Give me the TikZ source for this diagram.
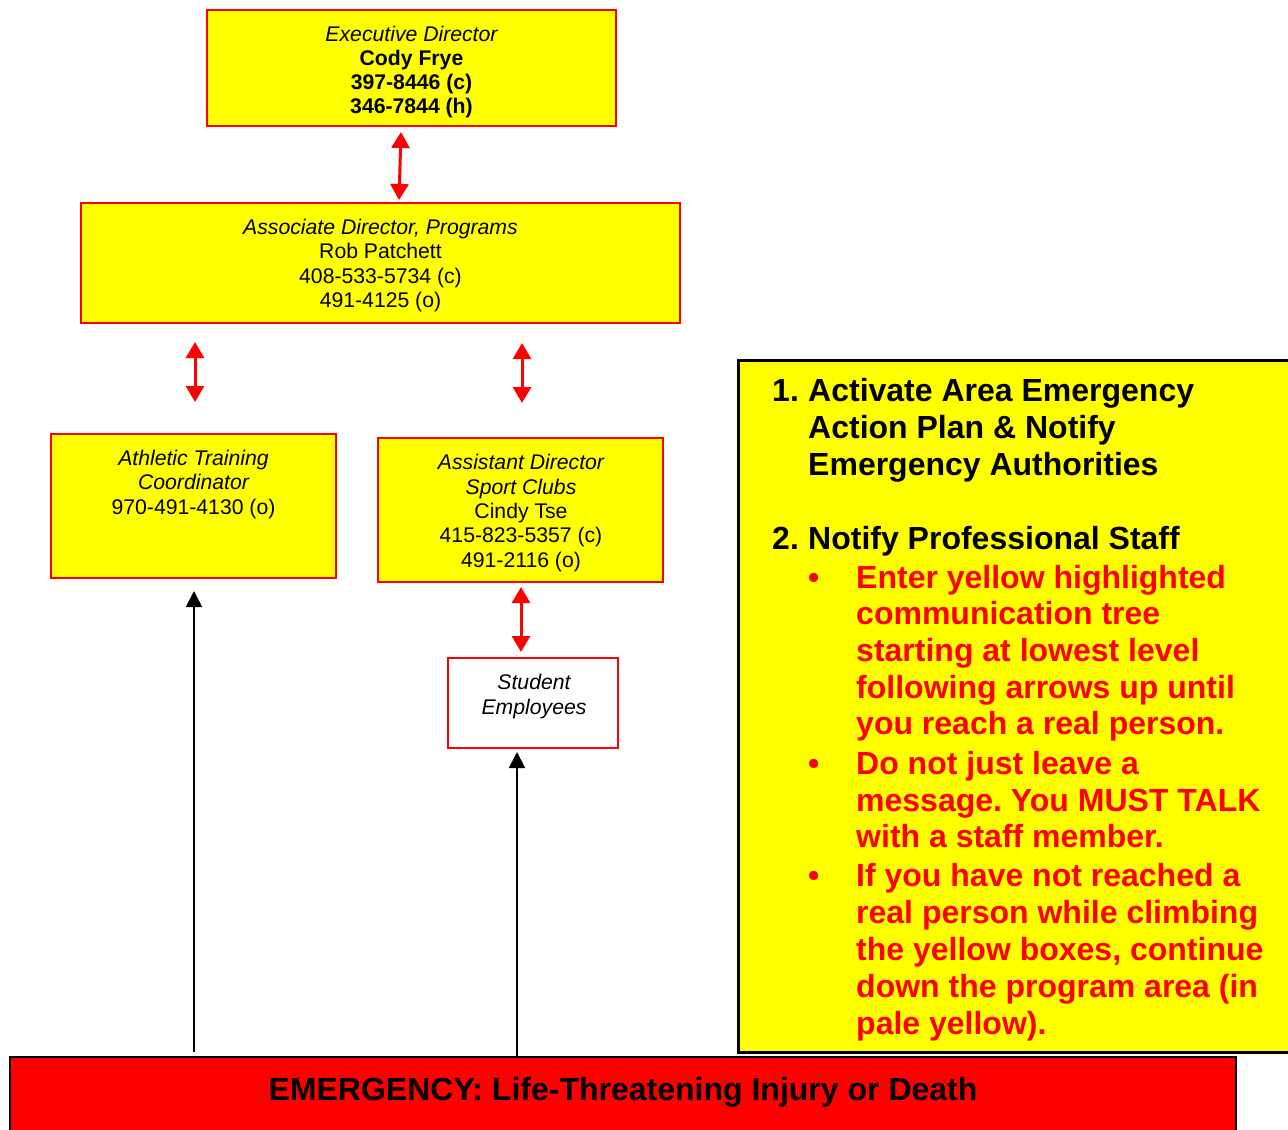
\documentclass[tikz,border=0pt]{standalone}
\usepackage{fontspec}
\setmainfont{Liberation Sans}
\usetikzlibrary{arrows.meta}
\definecolor{hy}{RGB}{255,255,0}
\definecolor{hr}{RGB}{255,0,0}
\frenchspacing
\begin{document}
\begin{tikzpicture}[x=1pt,y=-1pt,
  ybox/.style={draw=hr, fill=hy, line width=2pt, inner sep=0pt},
  wbox/.style={draw=hr, fill=white, line width=2pt, inner sep=0pt},
  txt/.style={anchor=base, inner sep=0pt, font=\fontsize{21.2}{24.4}\selectfont},
  big/.style={anchor=base west, inner sep=0pt, font=\fontsize{32}{36.8}\selectfont\bfseries},
  redbig/.style={big, text=hr},
  redarrow/.style={draw=hr, line width=3pt, {Triangle[width=18pt,length=16pt]}-{Triangle[width=18pt,length=16pt]}},
  blkarrow/.style={draw=black, line width=1.8pt, -{Triangle[width=16pt,length=16pt]}}]
\clip (0,0) rectangle (1288,1130);
\fill[white] (0,0) rectangle (1288,1130);

% boxes
\node[ybox, minimum width=409pt, minimum height=116pt] (exec) at (411.5,68) {};
\node[ybox, minimum width=599pt, minimum height=120pt] (assoc) at (380.5,263) {};
\node[ybox, minimum width=285pt, minimum height=144pt] (athl) at (193.5,506) {};
\node[ybox, minimum width=285pt, minimum height=144pt] (asst) at (520.5,510) {};
\node[wbox, minimum width=170pt, minimum height=90pt] (stud) at (533,703) {};
\node[draw=black, fill=hy, line width=3pt, inner sep=0pt, minimum width=562pt, minimum height=692pt] (info) at (1019,706) {};
\node[draw=black, fill=hr, line width=2.5pt, inner sep=0pt, minimum width=1226pt, minimum height=90pt] (banner) at (623,1102) {};

% executive director
\node[txt] (e1) at (411.5,41) {\itshape Executive Director};
\node[txt] (e2) at (411.5,65) {\bfseries Cody Frye};
\node[txt] (e3) at (411.5,89) {\bfseries 397-8446 (c)};
\node[txt] (e4) at (411.5,113) {\bfseries 346-7844 (h)};

% associate director
\node[txt] (a1) at (380.5,234) {\itshape Associate Director, Programs};
\node[txt] (a2) at (380.5,258) {Rob Patchett};
\node[txt] (a3) at (380.5,283) {408-533-5734 (c)};
\node[txt] (a4) at (380.5,307) {491-4125 (o)};

% athletic training
\node[txt] (t1) at (193.5,465) {\itshape Athletic Training};
\node[txt] (t2) at (193.5,489) {\itshape Coordinator};
\node[txt] (t3) at (193.5,514) {970-491-4130 (o)};

% assistant director
\node[txt] (s1) at (521,469) {\itshape Assistant Director};
\node[txt] (s2) at (521,494) {\itshape Sport Clubs};
\node[txt] (s3) at (521,518) {Cindy Tse};
\node[txt] (s4) at (521,542) {415-823-5357 (c)};
\node[txt] (s5) at (521,567) {491-2116 (o)};

% student employees
\node[txt] (u1) at (534,689) {\itshape Student};
\node[txt] (u2) at (534,714) {\itshape Employees};

% info box text
\node[big] (i1) at (772,401.5) {1.};
\node[big] (i2) at (808,401.5) {Activate Area Emergency};
\node[big] (i3) at (808,438.5) {Action Plan \& Notify};
\node[big] (i4) at (808,475.5) {Emergency Authorities};
\node[big] (i5) at (772,549.5) {2.};
\node[big] (i6) at (808,549.5) {Notify Professional Staff};

\node[redbig] (b1) at (808,588.5) {•};
\node[redbig] (r1) at (856,588.5) {Enter yellow highlighted};
\node[redbig] (r2) at (856,624.5) {communication tree};
\node[redbig] (r3) at (856,661.5) {starting at lowest level};
\node[redbig] (r4) at (856,698.5) {following arrows up until};
\node[redbig] (r5) at (856,734.5) {you reach a real person.};
\node[redbig] (b2) at (808,774.5) {•};
\node[redbig] (r6) at (856,774.5) {Do not just leave a};
\node[redbig] (r7) at (856,811.5) {message. You MUST TALK};
\node[redbig] (r8) at (856,847.5) {with a staff member.};
\node[redbig] (b3) at (808,886.5) {•};
\node[redbig] (r9) at (856,886.5) {If you have not reached a};
\node[redbig] (r10) at (856,923.5) {real person while climbing};
\node[redbig] (r11) at (856,960.5) {the yellow boxes, continue};
\node[redbig] (r12) at (856,997.5) {down the program area (in};
\node[redbig] (r13) at (856,1034.5) {pale yellow).};

% banner text
\node[anchor=base, inner sep=0pt, font=\fontsize{32}{36.8}\selectfont\bfseries] (bt) at (623,1100) {EMERGENCY: Life-Threatening Injury or Death};

% red double arrows
\coordinate (ra1) at (401,132); \coordinate (ra2) at (399,200);
\coordinate (rb1) at (195,342); \coordinate (rb2) at (195,402);
\coordinate (rc1) at (522,343); \coordinate (rc2) at (522,403);
\coordinate (rd1) at (521,587); \coordinate (rd2) at (521,652);
\draw[redarrow] (ra1) -- (ra2);
\draw[redarrow] (rb1) -- (rb2);
\draw[redarrow] (rc1) -- (rc2);
\draw[redarrow] (rd1) -- (rd2);

% black arrows
\coordinate (ka) at (194,1052);
\coordinate (kb) at (517,1057);
\draw[blkarrow, shorten >=12pt] (ka) -- (ka |- athl.south);
\draw[blkarrow, shorten >=3pt] (kb) -- (kb |- stud.south);
\end{tikzpicture}
\end{document}
